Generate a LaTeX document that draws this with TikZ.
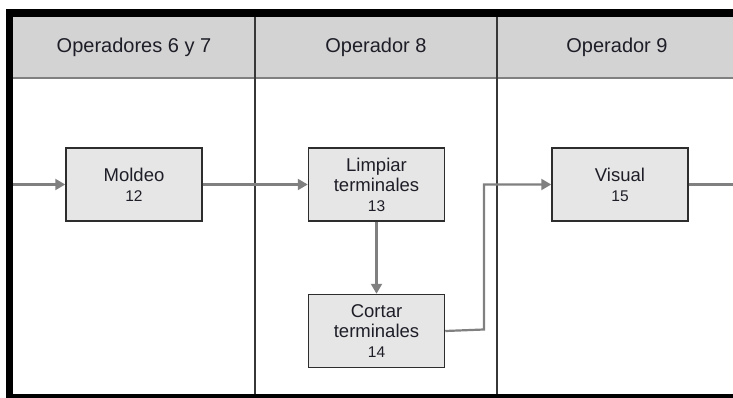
\documentclass[tikz,border=0pt]{standalone}
\usepackage{fontspec}
\setmainfont{Liberation Sans}
\usetikzlibrary{arrows.meta, positioning}
\definecolor{mydark}{RGB}{45,45,45}
\definecolor{mytext}{RGB}{30,30,40}
\definecolor{myarrow}{RGB}{128,128,128}
\definecolor{hdrgray}{RGB}{211,211,211}
\definecolor{boxgray}{RGB}{230,230,230}
\definecolor{lanegray}{RGB}{55,55,55}
\tikzset{
  block/.style={rectangle, draw=mydark, fill=boxgray,
    minimum width=136pt, minimum height=73pt, inner sep=0pt,
    align=center, font=\fontsize{18.5}{20}\selectfont, text=mytext, line width=1.5pt},
  hdr/.style={font=\fontsize{20}{24}\selectfont, text=mytext},
  arrow/.style={-{Triangle[length=10pt,width=11pt]}, line width=2.2pt, color=myarrow},
  line/.style={line width=2.2pt, color=myarrow},
  lane/.style={line width=1.8pt, color=lanegray}
}
\newcommand{\stepno}[1]{{\fontsize{15.5}{18}\selectfont #1}}

\begin{document}
\begin{tikzpicture}[x=1pt, y=-1pt]
  \useasboundingbox (0,0) rectangle (733,398);
  % header band
  \fill[hdrgray] (13,17) rectangle (733,78);
  \draw[line width=2pt, color=gray] (13,78) -- (733,78);
  % lanes
  \draw[lane, line width=2.6pt] (255,17) -- (255,394);
  \draw[lane] (497,17) -- (497,394);
  % frame
  \fill[black] (6,9) rectangle (733,17);
  \fill[black] (6,9) rectangle (13,398);
  \fill[black] (6,394) rectangle (733,398);
  % headers
  \node[hdr] (h1) at (134,47) {Operadores 6 y 7};
  \node[hdr] (h2) at (376,47) {Operador 8};
  \node[hdr] (h3) at (617,47) {Operador 9};
  % activities
  \node[block] (moldeo) at (134,184.5) {Moldeo\\\stepno{12}};
  \node[block, right=105pt of moldeo] (limpiar) {Limpiar\\terminales\\\stepno{13}};
  \node[block, below=72pt of limpiar] (cortar) {Cortar\\terminales\\\stepno{14}};
  \node[block, right=106pt of limpiar] (visual) {Visual\\\stepno{15}};
  % flow
  \coordinate (in) at (13,184.5);
  \coordinate (out) at (733,184.5);
  \coordinate (bend) at (484,329.5);
  \draw[arrow] (in) -- (moldeo);
  \draw[arrow] (moldeo) -- (limpiar);
  \draw[arrow] (limpiar) -- (cortar);
  \draw[arrow] (cortar.east) -- (bend) |- (visual.west);
  \draw[line] (visual) -- (out);
\end{tikzpicture}
\end{document}
